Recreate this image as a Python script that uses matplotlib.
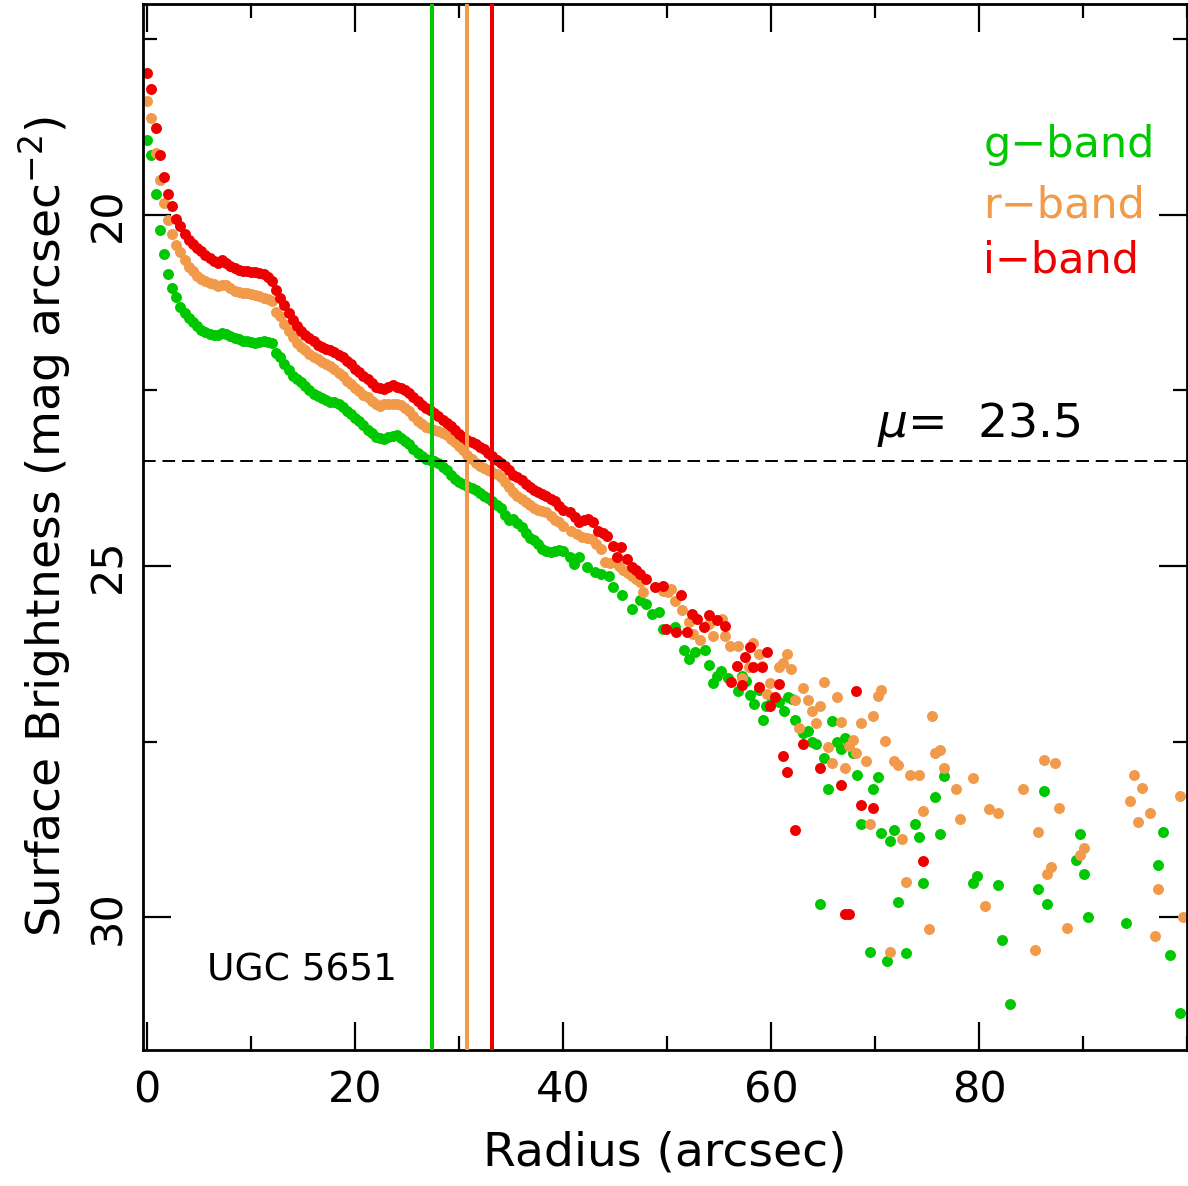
import matplotlib.pyplot as plt
import numpy as np
from matplotlib.ticker import MultipleLocator

plt.rcParams['font.family'] = ['DejaVu Sans']
plt.rcParams['mathtext.fontset'] = 'dejavusans'

# inner profile, sampled every 0.4 arcsec
rad_in = [0.0, 0.4, 0.8, 1.2, 1.6, 2.0, 2.4, 2.8, 3.2, 3.6,
          4.0, 4.4, 4.8, 5.2, 5.6, 6.0, 6.4, 6.8, 7.2, 7.6,
          8.0, 8.4, 8.8, 9.2, 9.6, 10.0, 10.4, 10.8, 11.2, 11.6,
          12.0, 12.4, 12.8, 13.2, 13.6, 14.0, 14.4, 14.8, 15.2, 15.6,
          16.0, 16.4, 16.8, 17.2, 17.6, 18.0, 18.4, 18.8, 19.2, 19.6,
          20.0, 20.4, 20.8, 21.2, 21.6, 22.0, 22.4, 22.8, 23.2, 23.6,
          24.0, 24.4, 24.8, 25.2, 25.6, 26.0, 26.4, 26.8, 27.2, 27.6,
          28.0, 28.4, 28.8, 29.2, 29.6, 30.0, 30.4, 30.8, 31.2, 31.6,
          32.0, 32.4, 32.8, 33.2, 33.6, 34.0, 34.4, 34.8, 35.2, 35.6,
          36.0, 36.4, 36.8, 37.2, 37.6, 38.0, 38.4, 38.8, 39.2, 39.6,
          40.0]

g_in = [18.94, 19.15, 19.71, 20.21, 20.56, 20.84, 21.04, 21.17, 21.32, 21.40,
        21.47, 21.53, 21.59, 21.64, 21.67, 21.70, 21.71, 21.71, 21.69, 21.70,
        21.73, 21.75, 21.77, 21.79, 21.80, 21.81, 21.82, 21.81, 21.80, 21.81,
        21.82, 21.97, 22.03, 22.12, 22.21, 22.29, 22.34, 22.38, 22.44, 22.50,
        22.55, 22.58, 22.61, 22.64, 22.66, 22.67, 22.69, 22.74, 22.79, 22.84,
        22.89, 22.94, 23.00, 23.06, 23.11, 23.16, 23.18, 23.19, 23.17, 23.15,
        23.14, 23.18, 23.22, 23.27, 23.33, 23.39, 23.43, 23.47, 23.49, 23.51,
        23.53, 23.59, 23.64, 23.70, 23.76, 23.80, 23.83, 23.86, 23.89, 23.92,
        23.96, 24.00, 24.03, 24.08, 24.13, 24.18, 24.28, 24.35, 24.33, 24.39,
        24.45, 24.53, 24.60, 24.63, 24.68, 24.76, 24.79, 24.80, 24.79, 24.77,
        24.78]

r_in = [18.38, 18.62, 19.12, 19.50, 19.83, 20.08, 20.28, 20.43, 20.53, 20.65,
        20.74, 20.80, 20.87, 20.91, 20.95, 20.97, 20.99, 21.01, 21.00, 21.00,
        21.04, 21.09, 21.10, 21.12, 21.12, 21.13, 21.14, 21.16, 21.18, 21.20,
        21.23, 21.39, 21.44, 21.55, 21.65, 21.74, 21.82, 21.88, 21.92, 21.98,
        22.02, 22.06, 22.10, 22.12, 22.16, 22.20, 22.25, 22.30, 22.36, 22.41,
        22.46, 22.51, 22.56, 22.60, 22.65, 22.70, 22.72, 22.70, 22.69, 22.69,
        22.69, 22.71, 22.75, 22.79, 22.87, 22.94, 22.98, 23.02, 23.04, 23.06,
        23.08, 23.11, 23.14, 23.19, 23.24, 23.29, 23.35, 23.42, 23.48, 23.54,
        23.57, 23.60, 23.63, 23.66, 23.69, 23.74, 23.80, 23.88, 23.94, 24.00,
        24.05, 24.09, 24.13, 24.17, 24.21, 24.22, 24.23, 24.29, 24.34, 24.38,
        24.43]

i_in = [17.98, 18.21, 18.76, 19.15, 19.46, 19.70, 19.88, 20.06, 20.16, 20.27,
        20.36, 20.42, 20.47, 20.52, 20.57, 20.62, 20.66, 20.68, 20.64, 20.68,
        20.73, 20.76, 20.79, 20.80, 20.80, 20.81, 20.82, 20.83, 20.85, 20.89,
        20.94, 21.07, 21.18, 21.29, 21.40, 21.50, 21.59, 21.66, 21.71, 21.75,
        21.80, 21.85, 21.88, 21.91, 21.93, 21.96, 21.99, 22.03, 22.08, 22.13,
        22.19, 22.24, 22.29, 22.34, 22.39, 22.45, 22.47, 22.48, 22.45, 22.42,
        22.45, 22.47, 22.50, 22.54, 22.59, 22.65, 22.71, 22.75, 22.78, 22.82,
        22.87, 22.92, 22.97, 23.01, 23.06, 23.12, 23.17, 23.20, 23.23, 23.26,
        23.30, 23.34, 23.39, 23.44, 23.49, 23.53, 23.58, 23.64, 23.70, 23.74,
        23.78, 23.83, 23.88, 23.92, 23.95, 23.98, 24.01, 24.05, 24.08, 24.15,
        24.21]

# outer, noisier part of each profile
g_rad_out = [40.7, 41.0, 41.5, 42.3, 43.1, 43.6, 44.4, 44.8, 45.7, 46.6,
             47.4, 48.0, 48.5, 49.2, 49.6, 50.8, 51.6, 52.1, 52.7, 53.6,
             54.0, 54.4, 54.8, 55.2, 55.9, 56.8, 57.2, 57.6, 58.0, 58.4,
             58.8, 59.2, 59.5, 60.0, 60.8, 61.2, 61.6, 62.0, 62.3, 63.1,
             63.5, 63.9, 64.3, 64.7, 65.1, 65.5, 65.9, 66.3, 66.7, 67.1,
             67.5, 67.9, 68.3, 68.65, 69.5, 69.8, 70.3, 70.6, 71.1, 71.4,
             71.8, 72.2, 73.0, 73.8, 74.2, 74.6, 75.8, 76.25, 76.6, 79.4,
             79.8, 81.8, 82.2, 83.0, 85.7, 86.2, 86.5, 89.3, 89.7, 90.1,
             90.5, 94.1, 97.2, 97.7, 98.4, 99.3]
g_out = [24.87, 24.97, 24.87, 25.01, 25.09, 25.11, 25.14, 25.30, 25.42, 25.61,
         25.49, 25.54, 25.68, 25.66, 25.90, 25.87, 26.20, 26.32, 26.23, 26.20,
         26.41, 26.67, 26.56, 26.50, 26.59, 26.78, 26.57, 26.64, 26.83, 26.96,
         26.77, 27.19, 27.00, 26.95, 26.94, 27.07, 26.87, 26.89, 27.19, 27.38,
         27.35, 27.50, 27.54, 29.81, 27.73, 28.18, 27.21, 27.51, 27.61, 27.45,
         27.54, 27.66, 27.97, 28.67, 30.49, 28.17, 28.00, 28.80, 30.62, 28.92,
         28.76, 29.79, 30.51, 28.67, 28.86, 29.51, 28.29, 28.81, 27.99, 29.52,
         29.42, 29.54, 30.32, 31.24, 29.60, 28.21, 29.81, 29.18, 28.82, 29.39,
         30.00, 30.08, 29.26, 28.79, 30.54, 31.37]

r_rad_out = [40.8, 41.3, 41.8, 42.3, 42.8, 43.2, 43.6, 44.0, 44.5, 45.0,
             45.4, 45.8, 46.2, 46.6, 47.0, 47.4, 47.7, 49.6, 50.1, 50.4,
             50.8, 51.4, 52.1, 52.5, 53.2, 54.0, 54.4, 55.3, 55.6, 56.0,
             56.8, 57.2, 57.9, 58.3, 58.8, 59.1, 59.6, 59.9, 60.8, 61.1,
             61.5, 61.9, 62.3, 62.7, 63.1, 63.5, 63.9, 64.3, 64.7, 65.1,
             65.5, 65.9, 66.3, 66.7, 67.1, 67.5, 67.9, 68.2, 68.65, 69.1,
             69.5, 69.8, 70.3, 70.6, 71.0, 71.4, 71.8, 72.2, 72.6, 73.0,
             73.4, 74.2, 74.6, 75.2, 75.5, 75.8, 76.2, 76.6, 77.8, 78.2,
             79.4, 80.6, 81.0, 81.8, 84.2, 85.4, 85.7, 86.2, 86.5, 86.9,
             87.3, 87.7, 88.5, 89.7, 90.1, 94.5, 94.9, 95.3, 95.7, 96.4,
             96.9, 97.2, 99.3, 99.6]
r_out = [24.50, 24.55, 24.59, 24.60, 24.61, 24.68, 24.76, 24.95, 24.96, 24.95,
         25.00, 25.06, 25.10, 25.14, 25.19, 25.23, 25.37, 25.35, 25.37, 25.33,
         25.50, 25.62, 25.80, 25.97, 26.06, 25.82, 25.99, 25.75, 26.00, 26.14,
         26.14, 26.59, 26.44, 26.10, 26.25, 26.42, 26.82, 26.67, 26.44, 26.38,
         26.26, 26.47, 26.91, 27.31, 26.74, 26.91, 27.06, 27.23, 27.00, 26.65,
         27.58, 27.81, 26.86, 27.22, 27.88, 27.56, 27.48, 27.66, 27.24, 27.78,
         28.68, 27.13, 26.85, 26.77, 27.49, 30.50, 27.78, 27.83, 28.89, 29.50,
         27.97, 27.97, 28.49, 30.17, 27.14, 27.66, 27.62, 27.88, 28.18, 28.60,
         28.02, 29.84, 28.46, 28.52, 28.17, 30.46, 28.79, 27.76, 29.39, 29.28,
         27.80, 28.45, 30.16, 29.12, 29.02, 28.35, 27.98, 28.65, 28.16, 28.51,
         30.27, 29.60, 28.28, 30.00]

i_rad_out = [40.7, 41.1, 41.5, 42.0, 42.4, 42.9, 43.4, 43.8, 44.2, 44.8,
             45.2, 45.6, 46.1, 46.6, 47.0, 47.4, 48.0, 48.8, 49.6, 49.9,
             50.9, 51.3, 51.9, 52.4, 52.9, 53.5, 54.0, 54.8, 55.6, 56.1,
             56.7, 57.2, 57.5, 58.0, 58.3, 58.8, 59.1, 59.6, 59.9, 60.4,
             60.8, 61.1, 61.5, 62.3, 63.1, 64.7, 66.7, 67.1, 67.5, 68.2,
             68.65, 69.8, 74.6]
i_out = [24.23, 24.30, 24.37, 24.35, 24.33, 24.37, 24.50, 24.53, 24.57, 24.71,
         24.87, 24.73, 24.90, 25.01, 25.06, 25.11, 25.18, 25.30, 25.28, 25.90,
         25.94, 25.42, 25.94, 25.68, 25.76, 25.87, 25.70, 25.77, 25.85, 26.65,
         26.42, 26.70, 26.29, 26.16, 26.44, 26.72, 26.44, 26.23, 27.00, 26.87,
         26.68, 27.70, 27.93, 28.76, 27.53, 27.88, 28.12, 29.95, 29.96, 26.78,
         28.40, 28.45, 29.20]

bands = ['g\u2212band', 'r\u2212band', 'i\u2212band']
colors = ['#00c800', '#f09a4a', '#ee0000']
r_iso = [27.4, 30.8, 33.2]   # radius where each band reaches mu_iso
mu_iso = 23.5

rad = [rad_in + g_rad_out, rad_in + r_rad_out, rad_in + i_rad_out]
mu = [g_in + g_out, r_in + r_out, i_in + i_out]

fig = plt.figure(figsize=(11.88, 11.86), dpi=100)
ax = fig.add_axes([0.1204, 0.1147, 0.8788, 0.8819])

for k in range(3):
    ax.plot(rad[k], mu[k], 'o', color=colors[k], ms=7.9, mew=0, zorder=2)

for k in range(3):
    ax.axvline(r_iso[k], color=colors[k], lw=2.9, zorder=3)
ax.axhline(mu_iso, color='k', lw=1.4, dashes=(6.5, 3.5), zorder=3)

ax.set_xlim(-0.4, 100.0)
ax.set_ylim(31.89, 17.0)
ax.set_xticks([0, 20, 40, 60, 80])
ax.xaxis.set_minor_locator(MultipleLocator(10))
ax.yaxis.set_major_locator(MultipleLocator(5))
ax.yaxis.set_minor_locator(MultipleLocator(2.5))
ax.tick_params(which='both', direction='in', top=True, right=True, width=1.6)
ax.tick_params(which='major', length=20)
ax.tick_params(which='minor', length=10)
ax.tick_params(axis='x', labelsize=31, pad=14)
ax.tick_params(axis='y', labelsize=31, pad=10, labelrotation=90)
for lbl in ax.get_yticklabels():
    lbl.set_va('center')
for s in ax.spines.values():
    s.set_linewidth(2.0)

ax.set_xlabel('Radius (arcsec)', fontsize=34, labelpad=14)
ax.set_ylabel('Surface Brightness (mag arcsec$^{-2}$)', fontsize=34, labelpad=10)

# band labels in the top right corner
ypos = [0.854, 0.796, 0.743]
for k in range(3):
    ax.text(0.805, ypos[k], bands[k], color=colors[k], fontsize=31,
            transform=ax.transAxes, va='baseline')
ax.text(0.703, 0.586, r'$\mu$=  23.5', fontsize=34, transform=ax.transAxes,
        va='baseline')
ax.text(0.0613, 0.066, 'UGC 5651', fontsize=27, transform=ax.transAxes,
        va='baseline')

plt.savefig('out.png', dpi=100)
